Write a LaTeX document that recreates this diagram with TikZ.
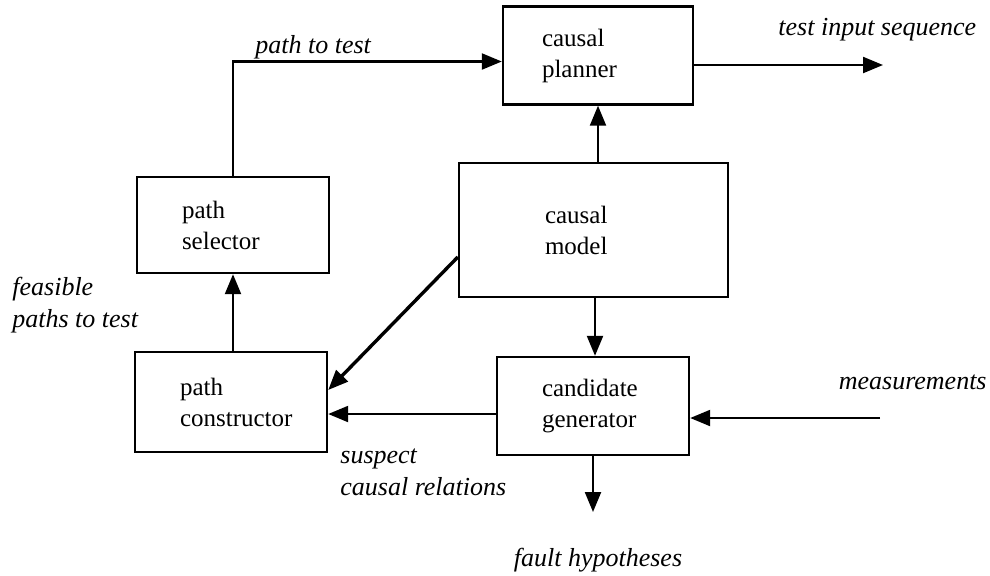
\documentclass[tikz,border=0pt]{standalone}
\usepackage{fontspec}
\setmainfont{Liberation Serif}
\usetikzlibrary{arrows.meta}
\begin{document}
\begin{tikzpicture}[x=0.5pt, y=-0.5pt,
		box/.style={draw, line width=1.2pt, align=left, font=\fontsize{12.5}{15.5}\selectfont, inner ysep=0pt},
		arr/.style={line width=1.1pt, -{Triangle[length=10pt, width=8pt]}},
		lbl/.style={font=\fontsize{13}{15}\selectfont\itshape, align=left, inner sep=0pt}]
		\useasboundingbox (0,0) rectangle (990,575);
		\node[box, minimum width=95pt, minimum height=49pt, inner xsep=19.5pt, text width=56pt] (planner) at (598,55.5) {causal\\planner};
		\node[box, minimum width=96pt, minimum height=48pt, inner xsep=22.5pt, text width=51pt] (selector) at (233,225) {path\\selector};
		\node[box, minimum width=134.5pt, minimum height=67pt, inner xsep=43pt, text width=48.5pt] (model) at (593.5,230) {causal\\model};
		\node[box, minimum width=96pt, minimum height=50pt, inner xsep=22.5pt, text width=51pt] (constructor) at (231,402) {path\\constructor};
		\node[box, minimum width=96pt, minimum height=49pt, inner xsep=22.5pt, text width=51pt] (candidate) at (593,406) {candidate\\generator};
		\coordinate (seqend) at (883,65);
		\coordinate (measstart) at (880,418);
		\coordinate (faultend) at (593,512);
		\draw[arr] (selector.north) |- ([yshift=-3pt]planner.west);
		\draw[arr] ([yshift=-4.75pt]planner.east) -- (seqend);
		\draw[arr] (model.north -| 598,0) -- (planner.south -| 598,0);
		\draw[arr] (model.south -| 595,0) -- (candidate.north -| 595,0);
		\draw[arr, line width=1.7pt] ([yshift=-13.5pt]model.west) -- ([yshift=6pt]constructor.east);
		\draw[arr] ([yshift=-4pt]candidate.west) -- ([yshift=-4pt]candidate.west -| constructor.east);
		\draw[arr] (constructor.north -| selector.south) -- (selector.south);
		\draw[arr] (measstart) -- (measstart -| candidate.east);
		\draw[arr] (candidate.south) -- (faultend);
		\node[lbl, anchor=west] (pathlbl) at (255,47) {path to test};
		\node[lbl, anchor=west] (seqlbl) at (778,30) {test input sequence};
		\node[lbl, anchor=west] (feaslbl) at (12,305) {feasible\\[1pt]paths to test};
		\node[lbl, anchor=west] (suspectlbl) at (340,472) {suspect\\[1pt]causal relations};
		\node[lbl, anchor=east] (measlbl) at (987,382) {measurements};
		\node[lbl] (faultlbl) at (598,560) {fault hypotheses};
	\end{tikzpicture}
\end{document}
